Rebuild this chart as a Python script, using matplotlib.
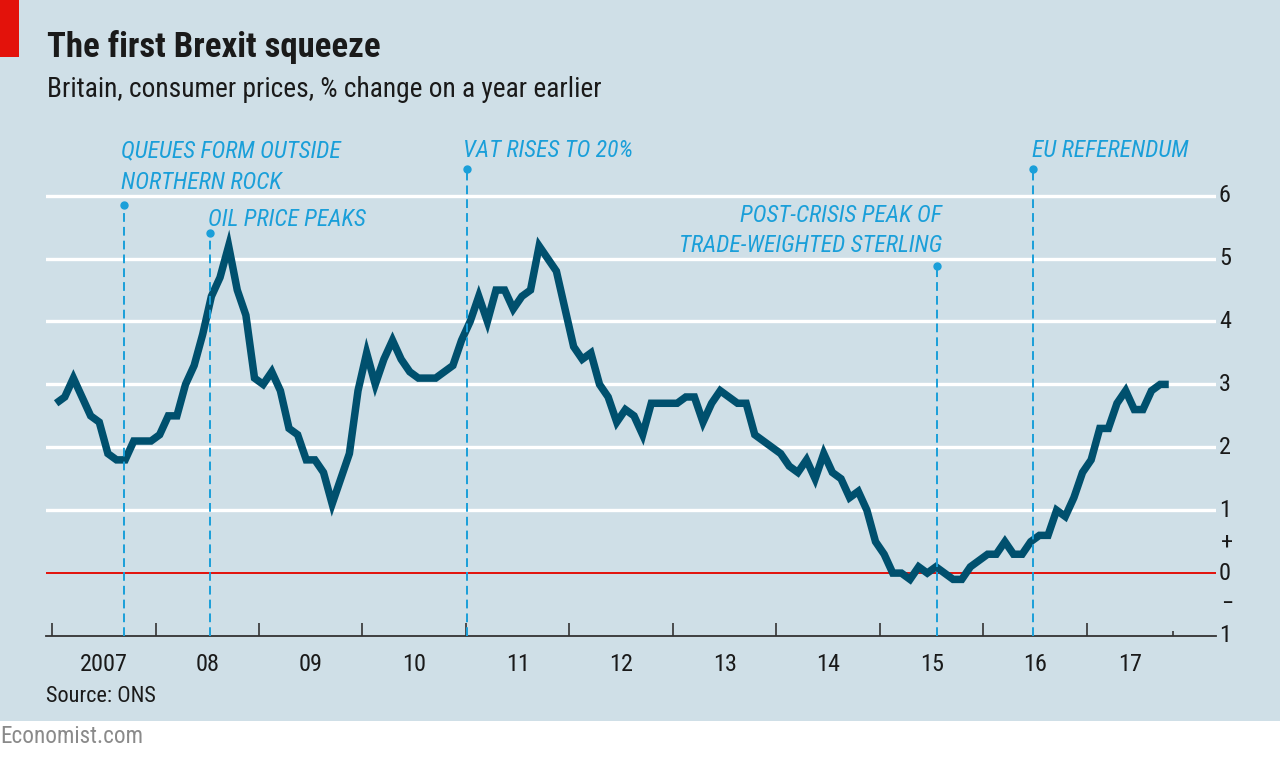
import matplotlib
matplotlib.use("Agg")
import matplotlib.pyplot as plt
from matplotlib import font_manager as fm
from matplotlib.transforms import blended_transform_factory
from matplotlib.patches import Rectangle
import numpy as np

# ---------------- data ----------------
start_year = 2007
cpi = [
    # 2007
    2.7, 2.8, 3.1, 2.8, 2.5, 2.4, 1.9, 1.8, 1.8, 2.1, 2.1, 2.1,
    # 2008
    2.2, 2.5, 2.5, 3.0, 3.3, 3.8, 4.4, 4.7, 5.2, 4.5, 4.1, 3.1,
    # 2009
    3.0, 3.2, 2.9, 2.3, 2.2, 1.8, 1.8, 1.6, 1.1, 1.5, 1.9, 2.9,
    # 2010
    3.5, 3.0, 3.4, 3.7, 3.4, 3.2, 3.1, 3.1, 3.1, 3.2, 3.3, 3.7,
    # 2011
    4.0, 4.4, 4.0, 4.5, 4.5, 4.2, 4.4, 4.5, 5.2, 5.0, 4.8, 4.2,
    # 2012
    3.6, 3.4, 3.5, 3.0, 2.8, 2.4, 2.6, 2.5, 2.2, 2.7, 2.7, 2.7,
    # 2013
    2.7, 2.8, 2.8, 2.4, 2.7, 2.9, 2.8, 2.7, 2.7, 2.2, 2.1, 2.0,
    # 2014
    1.9, 1.7, 1.6, 1.8, 1.5, 1.9, 1.6, 1.5, 1.2, 1.3, 1.0, 0.5,
    # 2015
    0.3, 0.0, 0.0, -0.1, 0.1, 0.0, 0.1, 0.0, -0.1, -0.1, 0.1, 0.2,
    # 2016
    0.3, 0.3, 0.5, 0.3, 0.3, 0.5, 0.6, 0.6, 1.0, 0.9, 1.2, 1.6,
    # 2017
    1.8, 2.3, 2.3, 2.7, 2.9, 2.6, 2.6, 2.9, 3.0, 3.0,
]
year_ticks = list(range(2007, 2018))
year_labels = ["2007", "08", "09", "10", "11", "12", "13", "14", "15", "16", "17"]
y_ticks = [6, 5, 4, 3, 2, 1, 0.5, 0, -0.5, -1]
y_labels = ["6", "5", "4", "3", "2", "1", "+", "0", "\u2212", "1"]

event_dates = [2007.70, 2008.525, 2011.01, 2015.55, 2016.48]
event_tops = [5.86, 5.40, 6.43, 4.89, 6.43]
event_text = [
    ["QUEUES FORM OUTSIDE", "NORTHERN ROCK"],
    ["OIL PRICE PEAKS"],
    ["VAT RISES TO 20%"],
    ["POST-CRISIS PEAK OF", "TRADE-WEIGHTED STERLING"],
    ["EU REFERENDUM"],
]

# ---------------- fonts ----------------
names = {f.name for f in fm.fontManager.ttflist}
FAMILY, STRETCH = "Lato", "normal"
for cand in ["Roboto Condensed", "Liberation Sans Narrow", "Open Sans Condensed",
             "Noto Sans Condensed"]:
    if cand in names:
        FAMILY = cand
        break
else:
    for fam in ["Noto Sans", "Open Sans", "Roboto", "DejaVu Sans"]:
        if any(f.name == fam and str(f.stretch) in ("condensed", "semi-condensed")
               for f in fm.fontManager.ttflist):
            FAMILY, STRETCH = fam, "condensed"
            break
plt.rcParams["font.family"] = [FAMILY, "DejaVu Sans"]
plt.rcParams["font.stretch"] = STRETCH

# ---------------- colours ----------------
BG = "#cfdfe7"
LINE = "#00506e"
EVT = "#1a9fd9"
RED = "#e3120b"
TXT = "#1a1a1a"

W, H = 1280, 757
fig = plt.figure(figsize=(W / 100, H / 100), dpi=100, facecolor="white")

def fx(px):
    return px / W

def fy(py):
    return 1 - py / H

fig.patches.append(Rectangle((0, fy(721)), 1, 1 - fy(721), transform=fig.transFigure,
                             facecolor=BG, edgecolor="none", zorder=-10))
fig.patches.append(Rectangle((0, fy(57)), fx(19), 1 - fy(57), transform=fig.transFigure,
                             facecolor=RED, edgecolor="none", zorder=-5))

# axes geometry: px 46..1216 horizontally; px 636 (=-1) .. 130 vertically
PX_YEAR = 103.5
PX_UNIT = 62.9
x0 = 2007 + (46 - 52) / PX_YEAR
x1 = 2007 + (1216 - 52) / PX_YEAR
ytop = -1 + (636 - 130) / PX_UNIT
ax = fig.add_axes([fx(46), fy(636), fx(1216) - fx(46), fy(130) - fy(636)])
ax.set_xlim(x0, x1)
ax.set_ylim(-1, ytop)
ax.patch.set_alpha(0)
for s in ax.spines.values():
    s.set_visible(False)
ax.set_xticks([])
ax.set_yticks([])

# gridlines
for g in [1, 2, 3, 4, 5, 6]:
    ax.axhline(g, color="white", lw=2.4, zorder=1)
ax.axhline(0, color=RED, lw=1.4, zorder=2)
ax.axhline(-1, color="#333333", lw=1.3, zorder=3, clip_on=False)

# x ticks
tick_len = 13 / PX_UNIT
for yr in year_ticks:
    ax.plot([yr, yr], [-1, -1 + tick_len], color="#333333", lw=1.2, zorder=3,
            solid_capstyle="butt", clip_on=False)
end_x = start_year + len(cpi) / 12.0
ax.plot([end_x, end_x], [-1, -1 + 5 / PX_UNIT], color="#333333", lw=1.2, zorder=3,
        solid_capstyle="butt", clip_on=False)

# data line
xs = start_year + np.arange(len(cpi)) / 12.0 + 0.04
ax.plot(xs, cpi, color=LINE, lw=5.4, zorder=5, solid_joinstyle="miter",
        solid_capstyle="butt")

# events
for d, top in zip(event_dates, event_tops):
    ax.plot([d, d], [-1, top], color=EVT, lw=1.4, dashes=(4.5, 2.6), zorder=6,
            clip_on=False)
    ax.plot([d], [top], marker="o", ms=5, color=EVT, zorder=6, clip_on=False)

# event text (figure pixel positions)
ann_specs = [
    (121, [157, 189], "left"),
    (208, [226], "left"),
    (463, [157], "left"),
    (942, [222, 252], "right"),
    (1032, [157], "left"),
]
ann_texts = []
for (px, bases, ha), lines in zip(ann_specs, event_text):
    for b, line in zip(bases, lines):
        t = fig.text(fx(px), fy(b), line, color=EVT, style="italic", fontsize=16,
                     ha=ha, va="baseline")
        ann_texts.append(t)
ref_ann = ann_texts[0]

# title / subtitle
title = fig.text(fx(47), fy(57), "The first Brexit squeeze", fontsize=24,
                 fontweight="bold", color=TXT, ha="left", va="baseline")
subtitle = fig.text(fx(47), fy(97), "Britain, consumer prices, % change on a year earlier",
                    fontsize=17, color=TXT, ha="left", va="baseline")
source = fig.text(fx(46), fy(702), "Source: ONS", fontsize=15, color=TXT,
                  ha="left", va="baseline")
econ = fig.text(fx(0), fy(743), "Economist.com", fontsize=14, color="#8a8a8a",
                ha="left", va="baseline")

# year labels
bt = blended_transform_factory(ax.transData, fig.transFigure)
year_texts = []
for i, (yr, lab) in enumerate(zip(year_ticks, year_labels)):
    nxt = year_ticks[i + 1] if i + 1 < len(year_ticks) else end_x
    t = ax.text((yr + nxt) / 2, fy(671), lab, transform=bt, fontsize=15, color=TXT,
                ha="center", va="baseline")
    year_texts.append(t)

# y labels on the right
bt2 = blended_transform_factory(fig.transFigure, ax.transData)
ylab_texts = []
for v, lab in zip(y_ticks, y_labels):
    if lab in ("+", "\u2212"):
        t = ax.text(fx(1227), v, lab, transform=bt2, fontsize=15, color=TXT,
                    ha="center", va="center")
    else:
        t = ax.text(fx(1219), v, lab, transform=bt2, fontsize=15, color=TXT,
                    ha="left", va="center")
    ylab_texts.append(t)

# ---------- fit text sizes to the reference widths ----------
def fit(ref, target, maxfs, group):
    for _ in range(2):
        fig.canvas.draw()
        r = fig.canvas.get_renderer()
        w = ref.get_window_extent(r).width
        fs = min(ref.get_fontsize() * target / w, maxfs)
        for t in group:
            t.set_fontsize(fs)

fit(title, 336, 25, [title])
fit(subtitle, 554, 21, [subtitle])
fit(ref_ann, 222, 17, ann_texts)
fit(year_texts[0], 50, 17.5, year_texts + ylab_texts)
fit(source, 110, 17, [source])
fit(econ, 143, 17, [econ])

fig.savefig("out.png", dpi=100, facecolor="white")
